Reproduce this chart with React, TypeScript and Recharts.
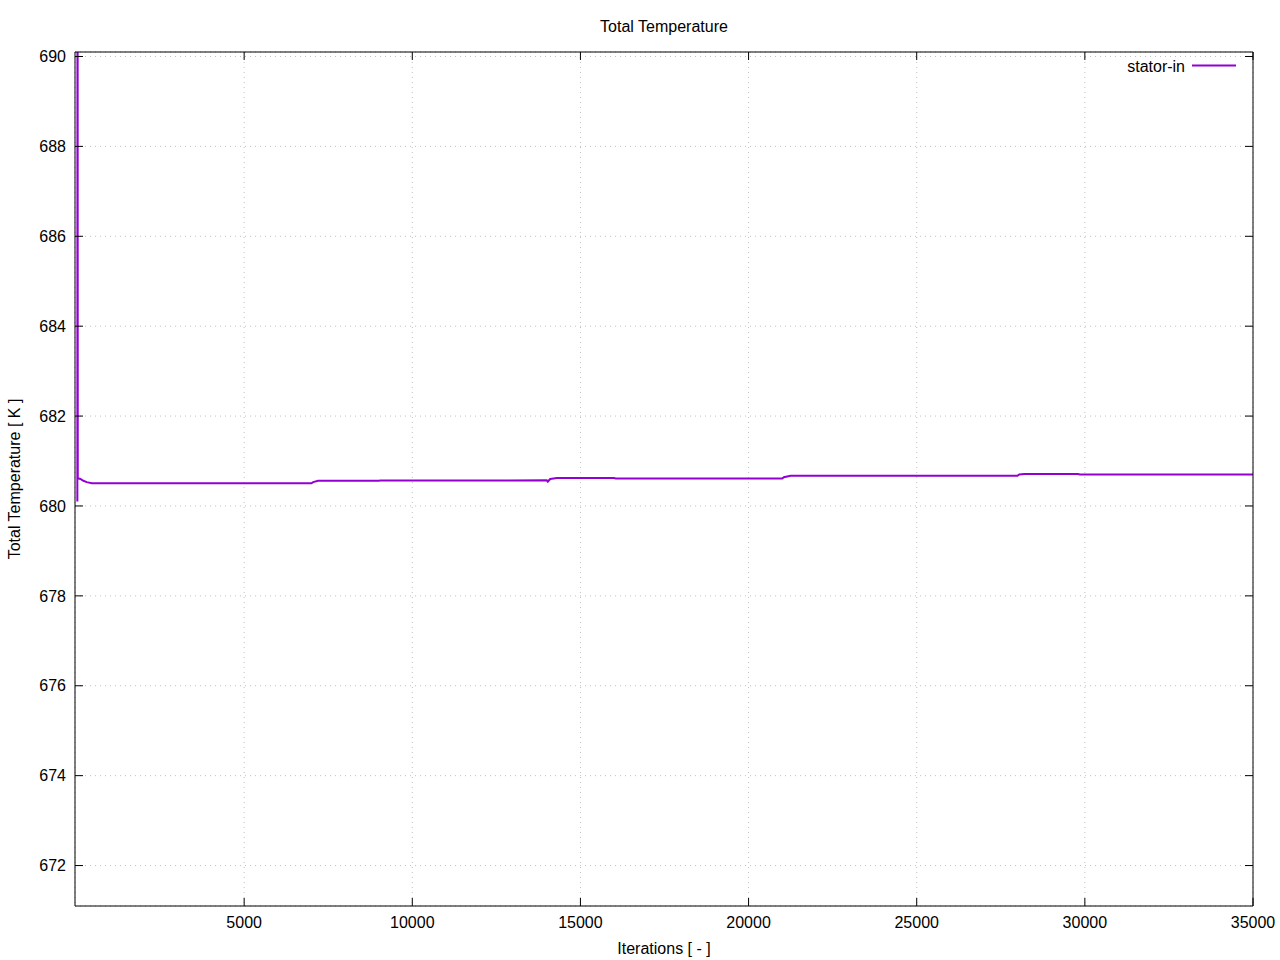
import React from 'react';
import { LineChart, Line, XAxis, YAxis, CartesianGrid } from 'recharts';

const iterations = [40, 45, 52, 130, 220, 320, 470, 7000, 7050, 7200, 9000, 9050, 14000, 14030, 14100, 14300, 16000, 16050, 21000, 21050, 21250, 28000, 28050, 28200, 29800, 29850, 35000];
const totalTemp = [680.1, 700, 680.62, 680.6, 680.56, 680.53, 680.505, 680.505, 680.53, 680.56, 680.56, 680.565, 680.57, 680.54, 680.6, 680.62, 680.62, 680.61, 680.61, 680.64, 680.67, 680.675, 680.7, 680.71, 680.71, 680.7, 680.7];
const xTicks = [5000, 10000, 15000, 20000, 25000, 30000, 35000];
const yTicks = [672, 674, 676, 678, 680, 682, 684, 686, 688, 690];
const seriesName = 'stator-in';
const titleText = 'Total Temperature';
const xLabel = 'Iterations [ - ]';
const yLabel = 'Total Temperature [ K ]';

const data = iterations.map((it, i) => ({ iter: it, temp: totalTemp[i] }));

const FONT = '"Liberation Sans", Arial, sans-serif';
const COLOR = '#9400D3';
const X_DOMAIN = [-30, 35000];
const Y_DOMAIN = [671.1, 690.1];
const tickStyle = { fontSize: 16, fontFamily: FONT, fill: '#000' };
const axisLineStyle = { stroke: '#000', strokeWidth: 1 };
const tickLineStyle = { stroke: '#000', strokeWidth: 1 };
const EmptyTick = () => <g />;

export default function App() {
  return (
    <div style={{ position: 'absolute', left: 0, top: 0, width: 1280, height: 960, background: '#fff', fontFamily: FONT }}>
      <LineChart width={1280} height={960} data={data} margin={{ top: 51, right: 26, bottom: 0, left: 0 }}>
        <CartesianGrid stroke="#c0c0c0" strokeDasharray="1 4" />
        <XAxis
          dataKey="iter"
          type="number"
          domain={X_DOMAIN}
          ticks={xTicks}
          height={54}
          tickSize={-8}
          tickMargin={19}
          tick={tickStyle}
          axisLine={axisLineStyle}
          tickLine={tickLineStyle}
          allowDataOverflow
        />
        <XAxis
          xAxisId="top"
          orientation="top"
          dataKey="iter"
          type="number"
          domain={X_DOMAIN}
          ticks={xTicks}
          height={1}
          tickSize={-8}
          tick={EmptyTick}
          axisLine={axisLineStyle}
          tickLine={tickLineStyle}
          allowDataOverflow
        />
        <YAxis
          type="number"
          domain={Y_DOMAIN}
          ticks={yTicks}
          width={75}
          tickSize={-8}
          tickMargin={17}
          tick={tickStyle}
          axisLine={axisLineStyle}
          tickLine={tickLineStyle}
          allowDataOverflow
        />
        <YAxis
          yAxisId="right"
          orientation="right"
          type="number"
          domain={Y_DOMAIN}
          ticks={yTicks}
          width={1}
          tickSize={-8}
          tick={EmptyTick}
          axisLine={axisLineStyle}
          tickLine={tickLineStyle}
          allowDataOverflow
        />
        <Line
          xAxisId="top"
          yAxisId="right"
          type="linear"
          dataKey="temp"
          stroke="none"
          strokeWidth={0}
          dot={false}
          activeDot={false}
          legendType="none"
          isAnimationActive={false}
        />
        <Line
          type="linear"
          dataKey="temp"
          name={seriesName}
          stroke={COLOR}
          strokeWidth={2}
          dot={false}
          activeDot={false}
          isAnimationActive={false}
        />
      </LineChart>
      <div style={{ position: 'absolute', left: 0, width: 1280, top: 18, textAlign: 'center', fontSize: 16, lineHeight: '18px', color: '#000', paddingLeft: 48, boxSizing: 'border-box' }}>
        {titleText}
      </div>
      <div style={{ position: 'absolute', left: 0, width: 1280, top: 940, textAlign: 'center', fontSize: 16, lineHeight: '18px', color: '#000', paddingLeft: 48, boxSizing: 'border-box' }}>
        {xLabel}
      </div>
      <div style={{ position: 'absolute', left: 15, top: 479, width: 0, height: 0 }}>
        <div style={{ position: 'absolute', left: 0, top: 0, transform: 'translate(-50%, -50%) rotate(-90deg)', whiteSpace: 'nowrap', fontSize: 16, lineHeight: '18px', color: '#000' }}>
          {yLabel}
        </div>
      </div>
      <div style={{ position: 'absolute', right: 1280 - 1185, top: 58, fontSize: 16, lineHeight: '18px', color: '#000', whiteSpace: 'nowrap' }}>
        {seriesName}
      </div>
      <svg style={{ position: 'absolute', left: 1192, top: 60, width: 46, height: 10 }}>
        <line x1={0} x2={44} y1={5.5} y2={5.5} stroke={COLOR} strokeWidth={2} />
      </svg>
    </div>
  );
}
